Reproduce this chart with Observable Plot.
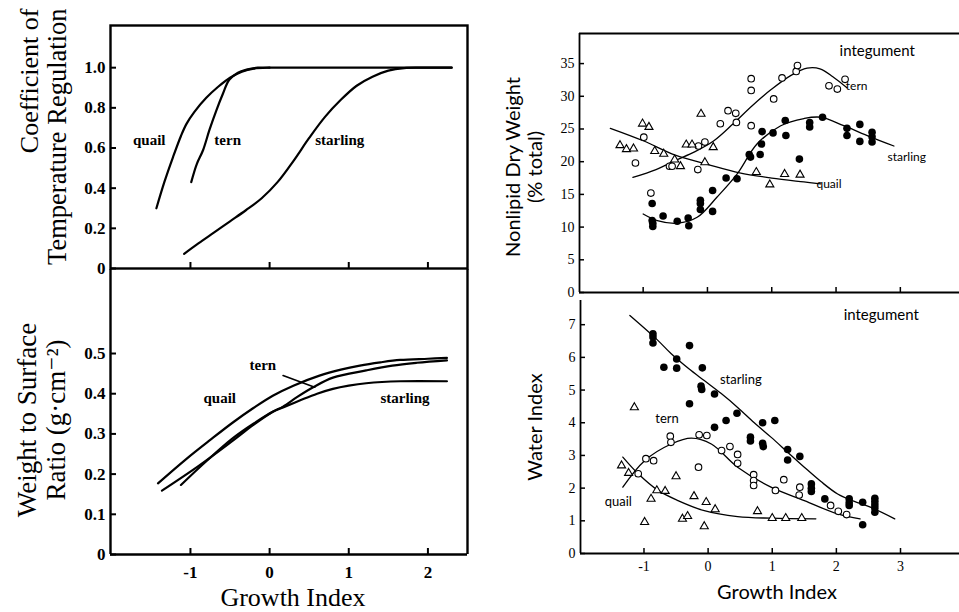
<!DOCTYPE html>
<html><head><meta charset="utf-8">
<script src="https://cdn.jsdelivr.net/npm/d3@7"></script>
<script src="https://cdn.jsdelivr.net/npm/@observablehq/plot@0.6"></script>
<style>
html,body{margin:0;padding:0;background:#fff;}
#fig{position:relative;width:959px;height:612px;overflow:hidden;background:#fff;}
</style></head><body><div id="fig"></div>
<script>
// ---------- Data ----------
// Left top: Coefficient of Temperature Regulation vs Growth Index
const tempQuail = [[-1.43,0.30],[-1.33,0.43],[-1.22,0.555],[-1.12,0.66],[-1.05,0.72],[-0.95,0.78],[-0.8,0.85],[-0.65,0.905],[-0.5,0.95],[-0.35,0.98],[-0.2,0.995],[0,1.0],[0.5,1.0],[1.0,1.0],[1.5,1.0],[2.0,1.0],[2.3,1.0]];
const tempTern = [[-0.99,0.43],[-0.92,0.52],[-0.84,0.59],[-0.76,0.69],[-0.67,0.79],[-0.59,0.87],[-0.51,0.94],[-0.4,0.975],[-0.29,0.99],[-0.15,1.0],[0,1.0]];
const tempStarling = [[-1.08,0.073],[-0.9,0.125],[-0.7,0.18],[-0.5,0.235],[-0.3,0.29],[-0.1,0.35],[0.1,0.43],[0.3,0.535],[0.5,0.65],[0.7,0.755],[0.9,0.84],[1.1,0.91],[1.3,0.955],[1.5,0.985],[1.7,0.998],[1.9,1.0],[2.1,1.0],[2.3,1.0]];
const tempLabels = [{t:"quail",x:-1.52,y:0.637},{t:"tern",x:-0.53,y:0.637},{t:"starling",x:0.886,y:0.637}];
const tempYTicks = [0,0.2,0.4,0.6,0.8,1.0];
const leftXTicks = [-1,0,1,2];
const leftXDomain = [-2.01,2.5];
const tempYDomain = [0,1.21];

// Left bottom: Weight to Surface Ratio
const wsQuail = [[-1.41,0.177],[-1.05,0.238],[-0.75,0.285],[-0.46,0.329],[-0.2,0.365],[0.04,0.395],[0.3,0.42],[0.63,0.445],[0.9,0.46],[1.14,0.470],[1.4,0.478],[1.65,0.484],[2.0,0.487],[2.24,0.489]];
const wsTern = [[-1.36,0.159],[-0.9,0.22],[-0.46,0.284],[-0.2,0.323],[0.04,0.355],[0.17,0.368],[0.35,0.392],[0.55,0.416],[0.8,0.44],[1.22,0.458],[1.55,0.47],[1.86,0.477],[2.24,0.483]];
const wsStarling = [[-1.12,0.173],[-0.8,0.232],[-0.46,0.29],[-0.2,0.326],[0.04,0.355],[0.17,0.366],[0.38,0.383],[0.6,0.40],[0.80,0.412],[1.0,0.42],[1.22,0.426],[1.65,0.431],[2.24,0.431]];
const wsTernPointer = [[0.17,0.445],[0.57,0.416]];
const wsLabels = [{t:"tern",x:-0.085,y:0.470},{t:"quail",x:-0.63,y:0.389},{t:"starling",x:1.71,y:0.389}];
const wsYTicks = [0,0.1,0.2,0.3,0.4,0.5];
const wsYDomain = [0,0.709];

// Right top: Nonlipid Dry Weight (% total), integument
const rightXDomain = [-1.99,3.92];
const rightXTicks = [-1,0,1,2,3];
const dryYDomain = [0,39.6];
const dryYTicks = [0,5,10,15,20,25,30,35];
const dryTernPts = [[-0.88,15.2],[-0.99,23.75],[-1.12,19.8],[-0.59,19.3],[-0.55,19.3],[-0.15,18.8],[-0.14,22.4],[-0.04,23.0],[0.20,25.8],[0.32,27.8],[0.44,27.4],[0.45,26.0],[0.68,32.7],[0.68,30.9],[0.68,25.5],[1.03,29.6],[1.16,32.8],[1.38,33.8],[1.40,34.7],[1.89,31.6],[2.02,31.1],[2.14,32.6]];
const dryQuailPts = [[-1.36,22.5],[-1.26,21.9],[-1.15,22.0],[-1.01,25.8],[-0.91,25.3],[-0.82,21.6],[-0.68,21.2],[-0.51,20.3],[-0.42,19.3],[-0.33,22.6],[-0.24,22.6],[-0.10,27.3],[-0.04,19.9],[0.09,22.2],[0.76,18.4],[0.97,16.5],[1.20,18.1],[1.44,18.0]];
const dryStarlingPts = [[-0.86,13.6],[-0.86,11.0],[-0.85,10.6],[-0.85,10.1],[-0.69,11.7],[-0.47,10.9],[-0.30,11.4],[-0.29,10.2],[-0.11,14.1],[-0.11,13.6],[-0.11,12.7],[0.08,15.6],[0.08,12.4],[0.29,17.5],[0.46,17.4],[0.65,21.1],[0.67,20.7],[0.82,21.1],[0.84,22.7],[0.85,24.6],[1.02,24.4],[1.22,24.0],[1.21,26.3],[1.43,20.4],[1.59,26.0],[1.59,25.3],[1.79,26.8],[2.17,25.1],[2.17,24.0],[2.37,25.7],[2.37,23.1],[2.56,24.5],[2.56,23.8],[2.56,23.0]];
const dryTernLine = [[-1.16,17.6],[-0.8,18.8],[-0.5,20.2],[-0.2,21.5],[0.1,23.2],[0.4,25.8],[0.7,28.6],[1.0,31.1],[1.3,33.2],[1.55,34.3],[1.75,34.2],[1.95,33.0],[2.17,31.3]];
const dryQuailLine = [[-1.51,25.1],[-1.0,23.2],[-0.5,21.0],[0,19.6],[0.5,18.3],[1.0,17.5],[1.5,16.9],[1.76,16.6]];
const dryStarlingLine = [[-1.0,12.0],[-0.78,11.0],[-0.47,10.6],[-0.16,11.5],[0.15,14.6],[0.46,18.1],[0.77,22.7],[1.14,25.5],[1.5,26.6],[1.76,26.8],[2.12,25.5],[2.53,23.8],[2.90,22.4]];
const dryLabels = [{t:"tern",x:2.32,y:31.5,a:"start",s:12},{t:"starling",x:3.1,y:20.7,a:"middle",s:12},{t:"quail",x:1.89,y:16.5,a:"start",s:12},{t:"integument",x:2.64,y:36.9,a:"middle",s:15}];

// Right bottom: Water Index, integument
const waterYDomain = [0,7.74];
const waterYTicks = [0,1,2,3,4,5,6,7];
const wStarlingPts = [[-0.86,6.72],[-0.86,6.62],[-0.86,6.44],[-0.69,5.70],[-0.49,5.95],[-0.49,5.67],[-0.29,6.36],[-0.29,4.58],[-0.09,5.68],[-0.11,5.12],[-0.10,5.02],[0.10,4.88],[0.10,3.86],[0.28,4.07],[0.45,4.29],[0.66,3.56],[0.66,3.44],[0.85,4.00],[0.85,3.37],[0.86,3.27],[1.04,4.07],[1.24,3.18],[1.24,2.86],[1.43,2.97],[1.61,2.13],[1.61,2.0],[1.61,1.90],[1.82,1.67],[2.20,1.67],[2.20,1.55],[2.20,1.47],[2.41,1.57],[2.41,0.88],[2.60,1.69],[2.60,1.59],[2.60,1.49],[2.60,1.39],[2.60,1.26]];
const wTernPts = [[-1.09,2.44],[-0.97,2.90],[-0.85,2.84],[-0.59,3.59],[-0.58,3.40],[-0.14,3.63],[-0.02,3.61],[-0.15,2.64],[0.21,3.15],[0.34,3.27],[0.46,3.03],[0.46,2.76],[0.71,2.41],[0.71,2.23],[0.71,2.08],[1.18,2.26],[1.05,1.93],[1.43,2.03],[1.42,1.79],[1.91,1.47],[2.03,1.29],[2.16,1.19]];
const wQuailPts = [[-1.35,2.69],[-1.24,2.46],[-1.15,4.47],[-0.99,0.96],[-0.89,1.67],[-0.80,1.93],[-0.67,1.91],[-0.50,2.36],[-0.40,1.06],[-0.32,1.14],[-0.22,1.75],[-0.06,0.83],[-0.03,1.57],[0.11,1.35],[0.77,1.29],[1.0,1.08],[1.21,1.08],[1.46,1.08]];
const wStarlingLine = [[-1.22,7.28],[-0.8,6.55],[-0.575,6.11],[-0.3,5.65],[-0.06,5.29],[0.2,4.9],[0.46,4.47],[0.72,4.0],[0.98,3.56],[1.24,3.1],[1.50,2.64],[1.76,2.2],[2.02,1.82],[2.27,1.6],[2.53,1.42],[2.91,1.06]];
const wTernLine = [[-1.33,2.03],[-0.99,2.84],[-0.575,3.35],[-0.26,3.53],[0.05,3.35],[0.46,2.64],[0.98,2.03],[1.50,1.62],[2.02,1.21],[2.37,1.06]];
const wQuailLine = [[-1.33,2.95],[-1.09,2.44],[-0.78,1.93],[-0.47,1.62],[-0.06,1.31],[0.46,1.13],[0.98,1.08],[1.68,1.06]];
const waterLabels = [{t:"starling",x:0.51,y:5.31,a:"middle",s:13},{t:"tern",x:-0.64,y:4.12,a:"middle",s:13},{t:"quail",x:-1.40,y:1.57,a:"middle",s:13},{t:"integument",x:2.70,y:7.28,a:"middle",s:15}];

// ---------- Drawing ----------
const fig = document.getElementById("fig");
const serif = "'Liberation Serif','DejaVu Serif',serif";
const sans = "Lato,'Open Sans','DejaVu Sans',sans-serif";
const px = d => d[0], py = d => d[1];
const fmtLeft = d => d === 0 ? "0" : d.toFixed(1);
const fmtInt = d => String(d);
function place(el, left, top) {
  el.style.position = "absolute"; el.style.left = left + "px"; el.style.top = top + "px";
  el.style.maxWidth = "none"; el.style.background = "transparent"; el.style.overflow = "visible";
  fig.appendChild(el);
}
const curve = (data, sw) => Plot.line(data, {x: px, y: py, curve: "catmull-rom", stroke: "black", strokeWidth: sw});
const vtext = (t, opts) => Plot.text([t], {rotate: -90, lineAnchor: "middle", textAnchor: "middle", ...opts});

// Top-left
place(Plot.plot({
  width: 470, height: 290, marginLeft: 110, marginRight: 3, marginTop: 25, marginBottom: 22,
  style: {background: "transparent", fontFamily: serif, overflow: "visible"},
  x: {domain: leftXDomain}, y: {domain: tempYDomain},
  marks: [
    Plot.frame({stroke: "black", strokeWidth: 2.4}),
    Plot.axisY(tempYTicks, {tickSize: -6, tickPadding: 11, tickFormat: fmtLeft, label: null, fontSize: 17, fontWeight: "bold", strokeWidth: 2}),
    Plot.axisX(leftXTicks, {tickSize: -6, tickFormat: () => "", label: null, strokeWidth: 2}),
    curve(tempQuail, 2.2), curve(tempTern, 2.2), curve(tempStarling, 2.2),
    Plot.text(tempLabels, {x: "x", y: "y", text: "t", fontSize: 15, fontWeight: "bold", fontFamily: serif}),
    vtext("Coefficient of", {frameAnchor: "top-left", textAnchor: "end", dx: -81, dy: -17, fontSize: 26, fontFamily: serif}),
    vtext("Temperature Regulation", {frameAnchor: "top-left", textAnchor: "end", dx: -53, dy: -17, fontSize: 26.5, fontFamily: serif})
  ]
}), 0, 0);

// Bottom-left
place(Plot.plot({
  width: 470, height: 346, marginLeft: 110, marginRight: 3, marginTop: 3, marginBottom: 58,
  style: {background: "transparent", fontFamily: serif, overflow: "visible"},
  x: {domain: leftXDomain}, y: {domain: wsYDomain},
  marks: [
    Plot.ruleX(leftXDomain, {stroke: "black", strokeWidth: 2.4}),
    Plot.ruleY([0], {stroke: "black", strokeWidth: 2.4}),
    Plot.axisY(wsYTicks, {tickSize: -6, tickPadding: 11, tickFormat: fmtLeft, label: null, fontSize: 17, fontWeight: "bold", strokeWidth: 2}),
    Plot.axisX(leftXTicks, {tickSize: -6, tickPadding: 17, tickFormat: fmtInt, label: null, fontSize: 17, fontWeight: "bold", strokeWidth: 2}),
    curve(wsQuail, 2.2), curve(wsTern, 2.2), curve(wsStarling, 2.2),
    Plot.line(wsTernPointer, {x: px, y: py, stroke: "black", strokeWidth: 1.6}),
    Plot.text(wsLabels, {x: "x", y: "y", text: "t", fontSize: 15, fontWeight: "bold", fontFamily: serif}),
    Plot.text(["Growth Index"], {frameAnchor: "bottom", lineAnchor: "middle", dx: 4, dy: 43, fontSize: 26, fontFamily: serif}),
    vtext("Weight to Surface", {frameAnchor: "left", dx: -83, dy: 8, fontSize: 27, fontFamily: serif}),
    vtext("Ratio (g·cm⁻²)", {frameAnchor: "left", dx: -54, dy: 8, fontSize: 27, fontFamily: serif})
  ]
}), 0, 266);

// Top-right
place(Plot.plot({
  width: 489, height: 300, marginLeft: 109, marginRight: 0, marginTop: 33, marginBottom: 8,
  style: {background: "transparent", fontFamily: serif, overflow: "visible"},
  x: {domain: rightXDomain}, y: {domain: dryYDomain},
  marks: [
    Plot.ruleX([rightXDomain[0]], {stroke: "black", strokeWidth: 1.8}),
    Plot.ruleY([dryYDomain[0], dryYDomain[1]], {stroke: "black", strokeWidth: 1.8}),
    Plot.axisY(dryYTicks, {tickSize: -5, tickPadding: 10, tickFormat: fmtInt, label: null, fontSize: 14, strokeWidth: 1.5}),
    Plot.axisX(rightXTicks, {tickSize: -5, tickFormat: () => "", label: null, strokeWidth: 1.5}),
    curve(dryTernLine, 1.3), curve(dryQuailLine, 1.3), curve(dryStarlingLine, 1.3),
    Plot.dot(dryTernPts, {x: px, y: py, r: 3.3, stroke: "black", fill: "white", strokeWidth: 1.1}),
    Plot.dot(dryQuailPts, {x: px, y: py, r: 3.0, symbol: "triangle", stroke: "black", fill: "white", strokeWidth: 1.1}),
    Plot.dot(dryStarlingPts, {x: px, y: py, r: 3.8, fill: "black", stroke: "none"}),
    Plot.text(dryLabels, {x: "x", y: "y", text: "t", textAnchor: d => d.a, fontSize: d => d.s, fontFamily: sans}),
    vtext("Nonlipid Dry Weight", {frameAnchor: "left", dx: -66, dy: 4, fontSize: 20, fontFamily: sans}),
    vtext("(% total)", {frameAnchor: "left", dx: -44, dy: 4, fontSize: 20, fontFamily: sans})
  ]
}), 470, 0);

// Bottom-right
place(Plot.plot({
  width: 489, height: 316, marginLeft: 110, marginRight: 0, marginTop: 4, marginBottom: 59,
  style: {background: "transparent", fontFamily: serif, overflow: "visible"},
  x: {domain: rightXDomain}, y: {domain: waterYDomain},
  marks: [
    Plot.ruleX([rightXDomain[0]], {stroke: "black", strokeWidth: 1.8}),
    Plot.ruleY([waterYDomain[0]], {stroke: "black", strokeWidth: 1.8}),
    Plot.axisY(waterYTicks, {tickSize: -5, tickPadding: 10, tickFormat: fmtInt, label: null, fontSize: 14, strokeWidth: 1.5}),
    Plot.axisX(rightXTicks, {tickSize: -5, tickPadding: 13, tickFormat: fmtInt, label: null, fontSize: 14, strokeWidth: 1.5}),
    curve(wStarlingLine, 1.3), curve(wTernLine, 1.3), curve(wQuailLine, 1.3),
    Plot.dot(wTernPts, {x: px, y: py, r: 3.3, stroke: "black", fill: "white", strokeWidth: 1.1}),
    Plot.dot(wQuailPts, {x: px, y: py, r: 3.0, symbol: "triangle", stroke: "black", fill: "white", strokeWidth: 1.1}),
    Plot.dot(wStarlingPts, {x: px, y: py, r: 3.8, fill: "black", stroke: "none"}),
    Plot.text(waterLabels, {x: "x", y: "y", text: "t", textAnchor: d => d.a, fontSize: d => d.s, fontFamily: sans}),
    Plot.text(["Growth Index"], {frameAnchor: "bottom", lineAnchor: "middle", dx: 7, dy: 39, fontSize: 20, fontFamily: sans}),
    vtext("Water Index", {frameAnchor: "left", dx: -45, dy: 0, fontSize: 20, fontFamily: sans})
  ]
}), 470, 296);
</script></body></html>
